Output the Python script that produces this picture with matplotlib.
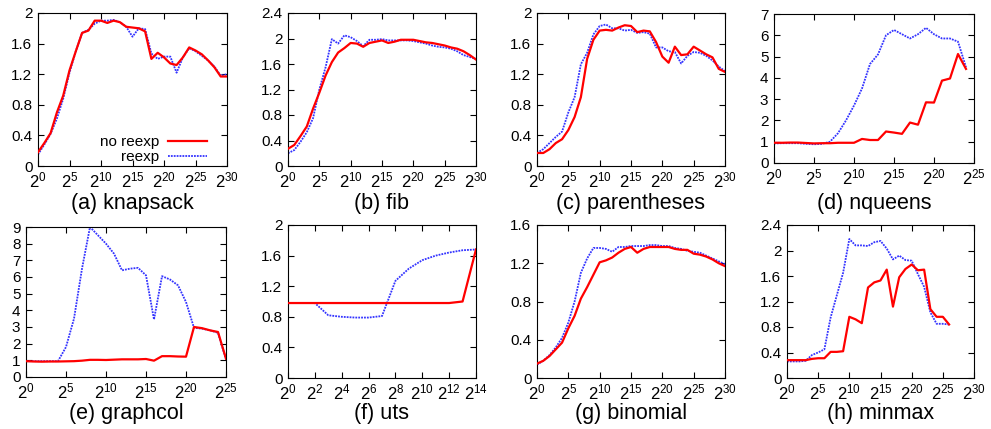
import matplotlib
matplotlib.use('Agg')
import matplotlib.pyplot as plt
from matplotlib.ticker import FixedLocator, FuncFormatter, LogFormatterMathtext, NullLocator

plt.rcParams['font.family'] = ['Liberation Sans', 'DejaVu Sans']
plt.rcParams['mathtext.fontset'] = 'custom'
plt.rcParams['mathtext.rm'] = 'Liberation Sans'
plt.rcParams['mathtext.default'] = 'regular'

# exponents (x = 2^k) and speedups
knap_no = [0.18, 0.30, 0.43, 0.70, 0.92, 1.25, 1.50, 1.74, 1.77, 1.90, 1.90, 1.87, 1.90, 1.88, 1.82, 1.81,
           1.80, 1.76, 1.40, 1.48, 1.42, 1.34, 1.32, 1.42, 1.55, 1.51, 1.46, 1.38, 1.29, 1.17, 1.17]
knap_re = [0.15, 0.28, 0.42, 0.62, 0.88, 1.22, 1.50, 1.74, 1.78, 1.86, 1.90, 1.90, 1.91, 1.88, 1.82, 1.69,
           1.80, 1.79, 1.47, 1.40, 1.43, 1.43, 1.22, 1.42, 1.54, 1.50, 1.44, 1.38, 1.30, 1.18, 1.20]

fib_no = [0.27, 0.33, 0.47, 0.62, 0.90, 1.15, 1.42, 1.63, 1.78, 1.85, 1.93, 1.92, 1.87, 1.93, 1.95, 1.97,
          1.93, 1.95, 1.98, 1.98, 1.98, 1.96, 1.94, 1.93, 1.91, 1.89, 1.86, 1.84, 1.80, 1.74, 1.67]
fib_re = [0.20, 0.25, 0.38, 0.53, 0.75, 1.20, 1.55, 1.99, 1.92, 2.05, 2.02, 1.96, 1.88, 1.98, 1.98, 1.99,
          1.97, 1.97, 1.97, 1.97, 1.96, 1.94, 1.92, 1.89, 1.87, 1.86, 1.84, 1.80, 1.74, 1.71, 1.68]

par_no = [0.17, 0.17, 0.22, 0.30, 0.35, 0.47, 0.64, 0.90, 1.40, 1.65, 1.77, 1.78, 1.77, 1.81, 1.84, 1.83,
          1.75, 1.77, 1.76, 1.62, 1.43, 1.35, 1.56, 1.45, 1.46, 1.56, 1.51, 1.46, 1.42, 1.27, 1.23]
par_re = [0.17, 0.22, 0.30, 0.38, 0.45, 0.70, 0.90, 1.33, 1.48, 1.72, 1.83, 1.85, 1.80, 1.80, 1.77, 1.78,
          1.74, 1.75, 1.73, 1.55, 1.55, 1.50, 1.49, 1.34, 1.44, 1.49, 1.48, 1.44, 1.38, 1.30, 1.24]

nq_no = [0.95, 0.95, 0.96, 0.96, 0.94, 0.92, 0.93, 0.93, 0.95, 0.95, 0.95, 1.13, 1.08, 1.08, 1.48, 1.43,
         1.37, 1.90, 1.80, 2.85, 2.84, 3.87, 3.97, 5.12, 4.42]
nq_re = [0.92, 0.93, 0.93, 0.93, 0.90, 0.88, 0.90, 1.00, 1.40, 2.00, 2.70, 3.50, 4.65, 5.10, 6.00, 6.25,
         6.05, 5.85, 6.05, 6.35, 6.05, 5.85, 5.85, 5.70, 4.50]

gc_no = [0.95, 0.93, 0.92, 0.93, 0.93, 0.94, 0.95, 0.98, 1.03, 1.03, 1.02, 1.04, 1.06, 1.06, 1.06, 1.08,
         0.98, 1.25, 1.25, 1.23, 1.22, 3.00, 2.93, 2.80, 2.70, 1.10]
gc_re = [0.95, 0.95, 0.95, 0.95, 0.95, 1.80, 3.50, 6.50, 9.00, 8.50, 8.00, 7.40, 6.40, 6.50, 6.55, 6.10,
         3.45, 6.05, 5.85, 5.50, 4.50, 2.95, 2.90, 2.80, 2.65, 1.05]

uts_no = [0.98, 0.98, 0.98, 0.98, 0.98, 0.98, 0.98, 0.98, 0.98, 0.98, 0.98, 0.98, 0.98, 1.00, 1.68]
uts_re = [0.98, 0.98, 0.98, 0.82, 0.80, 0.79, 0.79, 0.81, 1.27, 1.43, 1.54, 1.60, 1.64, 1.67, 1.68]

bin_no = [0.15, 0.18, 0.23, 0.30, 0.37, 0.52, 0.65, 0.83, 0.95, 1.08, 1.21, 1.23, 1.26, 1.31, 1.35, 1.37,
          1.31, 1.35, 1.37, 1.37, 1.37, 1.37, 1.35, 1.34, 1.34, 1.30, 1.29, 1.27, 1.24, 1.20, 1.17]
bin_re = [0.14, 0.18, 0.24, 0.32, 0.42, 0.58, 0.80, 1.10, 1.25, 1.36, 1.36, 1.35, 1.32, 1.37, 1.37, 1.38,
          1.38, 1.38, 1.39, 1.39, 1.38, 1.38, 1.36, 1.35, 1.33, 1.32, 1.31, 1.28, 1.25, 1.22, 1.19]

mm_no = [0.28, 0.28, 0.28, 0.28, 0.30, 0.31, 0.31, 0.41, 0.41, 0.42, 0.96, 0.92, 0.86, 1.42, 1.50, 1.53,
         1.70, 1.12, 1.58, 1.71, 1.78, 1.69, 1.70, 1.08, 0.96, 0.96, 0.84]
mm_re = [0.26, 0.26, 0.26, 0.27, 0.36, 0.40, 0.45, 0.95, 1.30, 1.65, 2.18, 2.08, 2.08, 2.07, 2.13, 2.15,
         2.03, 1.86, 1.92, 1.85, 1.84, 1.63, 1.43, 1.03, 0.85, 0.85, 0.84]

# title, no reexp, reexp, max exponent, x tick exponents, y max, y step, axes box in pixels (l, r, top, bottom)
panels = [
    ('(a) knapsack', knap_no, knap_re, 30, range(0, 31, 5), 2.0, 0.4, (38, 227, 13, 166)),
    ('(b) fib', fib_no, fib_re, 30, range(0, 31, 5), 2.4, 0.4, (288, 476, 13, 166)),
    ('(c) parentheses', par_no, par_re, 30, range(0, 31, 5), 2.0, 0.4, (537, 725, 13, 166)),
    ('(d) nqueens', nq_no, nq_re, 25, range(0, 26, 5), 7.0, 1.0, (774, 974, 14, 163)),
    ('(e) graphcol', gc_no, gc_re, 25, range(0, 26, 5), 9.0, 1.0, (26, 226, 227, 377)),
    ('(f) uts', uts_no, uts_re, 14, range(0, 15, 2), 2.0, 0.4, (288, 476, 225, 378)),
    ('(g) binomial', bin_no, bin_re, 30, range(0, 31, 5), 1.6, 0.4, (537, 725, 225, 378)),
    ('(h) minmax', mm_no, mm_re, 30, range(0, 31, 5), 2.4, 0.4, (787, 974, 225, 378)),
]
title_y = [203, 203, 203, 203, 413, 413, 413, 413]

W, H = 991, 429
fig = plt.figure(figsize=(W / 100, H / 100), dpi=100)

for i, (title, no, re, xmax, xt, ymax, ystep, box) in enumerate(panels):
    l, r, t, b = box
    ax = fig.add_axes([l / W, 1 - b / H, (r - l) / W, (b - t) / H])
    xs_no = [2 ** k for k in range(len(no))]
    xs_re = [2 ** k for k in range(len(re))]
    ax.plot(xs_no, no, color='#ff0000', lw=1.6, label='no reexp', zorder=3)
    ax.plot(xs_re, re, color='#3333ff', lw=1.3, ls=(0, (1, 0.6)), label='reexp', zorder=2)
    ax.set_xscale('log', base=2)
    ax.set_xlim(1, 2 ** xmax)
    ax.set_ylim(0, ymax)
    ax.xaxis.set_major_locator(FixedLocator([2 ** k for k in xt]))
    ax.xaxis.set_major_formatter(LogFormatterMathtext(base=2))
    ax.xaxis.set_minor_locator(NullLocator())
    n = int(round(ymax / ystep))
    ax.set_yticks([j * ystep for j in range(n + 1)])
    ax.yaxis.set_major_formatter(FuncFormatter(lambda v, p: '%g' % round(v, 2)))
    ax.tick_params(direction='in', length=4, width=0.8, top=True, right=True, labelsize=11, pad=4)
    ax.tick_params(axis='x', labelsize=12, pad=3)
    for s in ax.spines.values():
        s.set_linewidth(0.8)
    fig.text((l + r) / 2 / W, 1 - title_y[i] / H, title, fontsize=15.5, ha='center', va='center')
    if i == 0:
        ax.legend(loc='lower right', bbox_to_anchor=(0.95, -0.06), frameon=False, markerfirst=False,
                  fontsize=11, handlelength=2.55, handletextpad=0.55, labelspacing=0.1, borderpad=0.2)

plt.savefig('out.png', dpi=100)
